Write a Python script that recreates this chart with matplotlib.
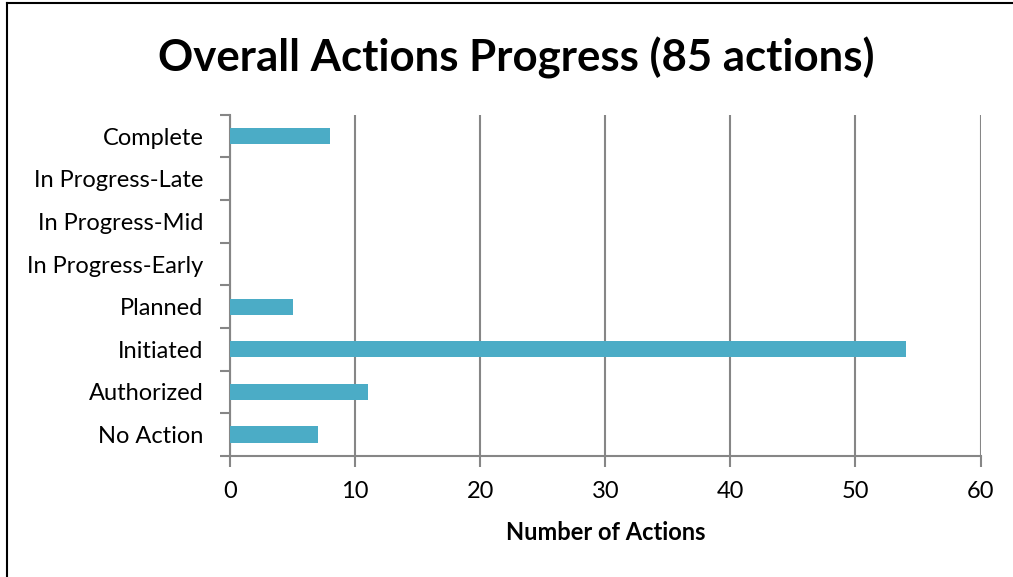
import matplotlib
matplotlib.use("Agg")
import matplotlib.pyplot as plt
from matplotlib.lines import Line2D
from matplotlib.ticker import FixedLocator

plt.rcParams["font.family"] = ["Lato", "DejaVu Sans"]

categories = ["No Action", "Authorized", "Initiated", "Planned",
              "In Progress-Early", "In Progress-Mid", "In Progress-Late", "Complete"]
counts = [7, 11, 54, 5, 0, 0, 0, 8]
x_ticks = [0, 10, 20, 30, 40, 50, 60]

grid_col = "#868686"

fig = plt.figure(figsize=(10.13, 5.77), dpi=100)
ax = fig.add_axes([0.227, 0.210, 0.741, 0.591])

ax.barh(range(len(categories)), counts, height=0.38, color="#4BACC6", zorder=3)

ax.set_xlim(0, 60)
ax.set_ylim(-0.5, len(categories) - 0.5)
ax.set_xticks(x_ticks)
ax.set_xticklabels([str(v) for v in x_ticks], fontsize=17)
ax.set_yticks(range(len(categories)))
ax.set_yticklabels(categories, fontsize=17)
ax.tick_params(axis="y", length=0, pad=19)
ax.yaxis.set_minor_locator(FixedLocator([i - 0.5 for i in range(len(categories) + 1)]))
ax.tick_params(axis="y", which="minor", length=7, width=1.5, color=grid_col)
ax.tick_params(axis="x", length=8, width=1.5, color=grid_col, pad=10)

ax.grid(axis="x", color=grid_col, linewidth=1.5, zorder=0)
for s in ["top", "right"]:
    ax.spines[s].set_visible(False)
for s in ["left", "bottom"]:
    ax.spines[s].set_color(grid_col)
    ax.spines[s].set_linewidth(1.5)

ax.set_xlabel("Number of Actions", fontsize=17, fontweight="bold", labelpad=14)
fig.text(0.51, 0.90, "Overall Actions Progress (85 actions)", ha="center", va="center",
         fontsize=31.5, fontweight="bold")

# chart area border (top and left edges visible)
fig.add_artist(Line2D([0.007, 1.0], [0.995, 0.995], color="black", linewidth=1.5,
                      transform=fig.transFigure))
fig.add_artist(Line2D([0.007, 0.007], [0.0, 0.995], color="black", linewidth=1.5,
                      transform=fig.transFigure))

fig.savefig("out.png", dpi=100, facecolor="white")
